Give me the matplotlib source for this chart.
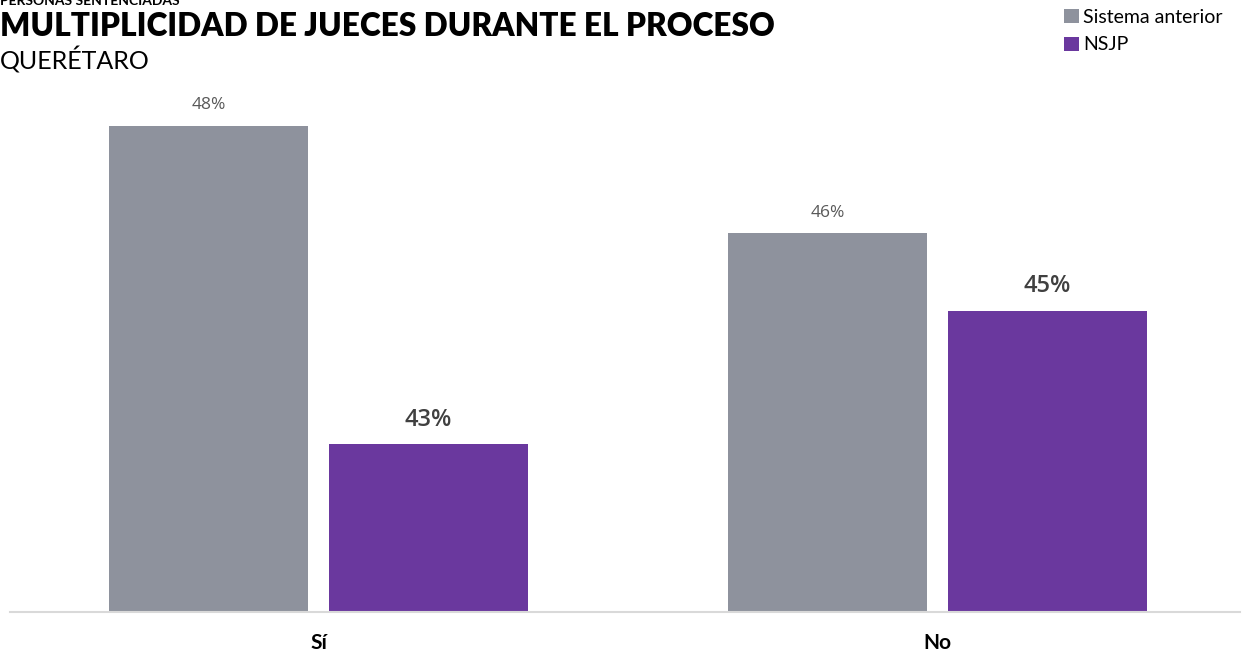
import numpy as np
import matplotlib.pyplot as plt

categories = ['Sí', 'No']
series = ['Sistema anterior', 'NSJP']
anterior = [47.99, 46.23]
nsjp = [42.76, 44.95]
labels_anterior = ['48%', '46%']
labels_nsjp = ['43%', '45%']

gray = '#8e929d'
purple = '#6a389e'

plt.rcParams['font.family'] = ['Lato', 'DejaVu Sans']

W, H = 1250, 656
fig = plt.figure(figsize=(W / 100, H / 100), dpi=100)
# axes in pixel coords: left 10, right 1240, bottom 612, top 100
ax = fig.add_axes([10 / W, (H - 612) / H, 1230 / W, 512 / H])

x = np.arange(len(categories))
w = 0.3215
off = 0.1777
b1 = ax.bar(x - off, np.array(anterior) - 40, w, bottom=40, color=gray, label=series[0])
b2 = ax.bar(x + off, np.array(nsjp) - 40, w, bottom=40, color=purple, label=series[1])

ax.set_xlim(-0.4984, 1.4887)
ax.set_ylim(40, 48.41)

for rect, t in zip(b1, labels_anterior):
    ax.text(rect.get_x() + rect.get_width() / 2, rect.get_y() + rect.get_height() + 0.2, t,
            ha='center', va='bottom', fontsize=12.5, color='#595959', family=['Open Sans', 'DejaVu Sans'])
for rect, t in zip(b2, labels_nsjp):
    ax.text(rect.get_x() + rect.get_width() / 2, rect.get_y() + rect.get_height() + 0.2, t,
            ha='center', va='bottom', fontsize=17, fontweight='semibold', color='#404040',
            family=['Open Sans', 'DejaVu Sans'])

for s in ['top', 'right', 'left']:
    ax.spines[s].set_visible(False)
ax.spines['bottom'].set_color('#d9d9d9')
ax.spines['bottom'].set_linewidth(1.5)
ax.set_yticks([])
ax.set_xticks(x)
ax.set_xticklabels(categories, fontsize=15, fontweight='bold', color='black')
ax.tick_params(axis='x', length=0, pad=15)

fig.text(0, 1 - 1 / H, 'PERSONAS SENTENCIADAS', fontsize=10, fontweight='bold', va='center', ha='left')
fig.text(0, 1 - 27 / H, 'MULTIPLICIDAD DE JUECES DURANTE EL PROCESO', fontsize=22.8,
         fontweight='heavy', va='center', ha='left')
fig.text(0, 1 - 60 / H, 'QUERÉTARO', fontsize=18, va='center', ha='left')

fig.legend(handles=[b1, b2], labels=series, loc='upper right', bbox_to_anchor=(1232 / W, 1 + 1 / H),
           frameon=False, fontsize=14, handlelength=0.75, handleheight=0.75, handletextpad=0.2,
           labelspacing=0.55, borderpad=0)

fig.savefig('out.png', dpi=100)
